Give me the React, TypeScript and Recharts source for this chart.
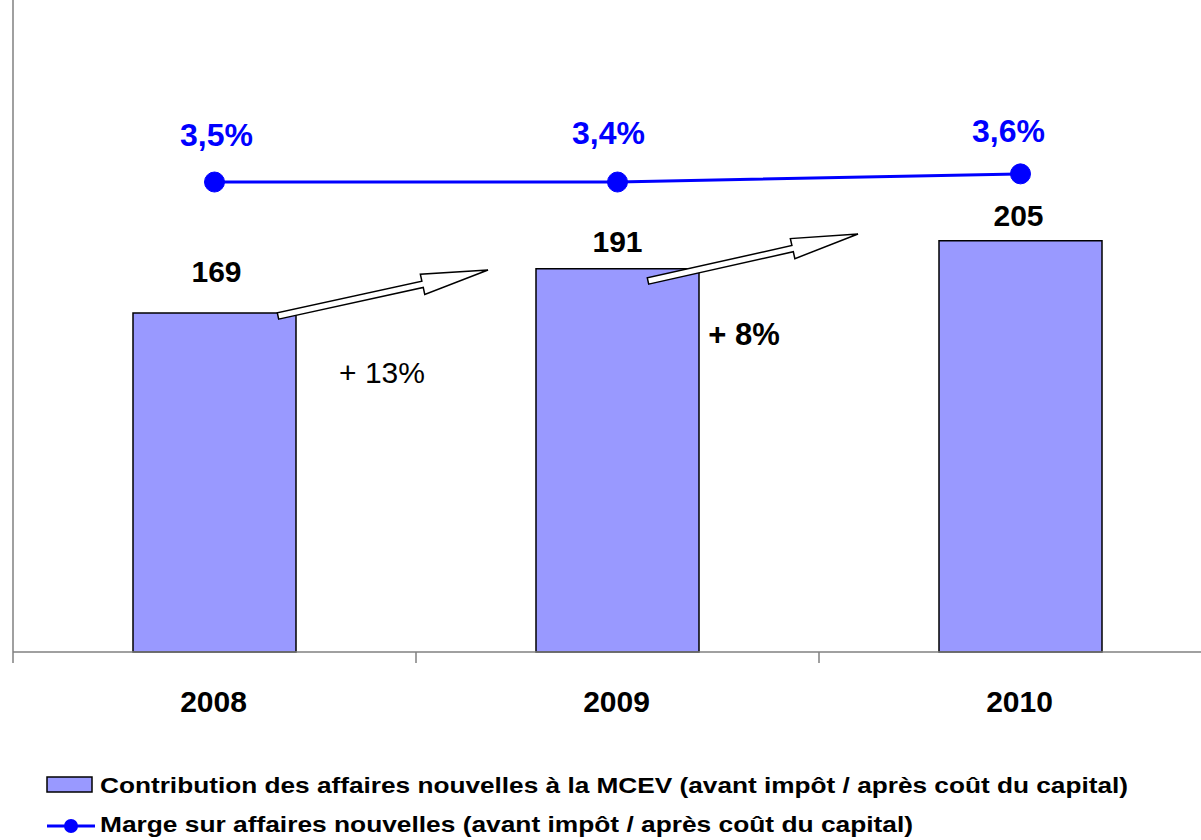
import React from 'react';
import {
  ComposedChart,
  Bar,
  Line,
  XAxis,
  YAxis,
  LabelList,
} from 'recharts';

// values
const years = ['2008', '2009', '2010'];
const contribution = [169, 191, 205];
const marginPct = [3.46, 3.46, 3.52];
const marginLabels = ['3,5%', '3,4%', '3,6%'];
const growthLabels = ['+ 13%', '+ 8%'];

const legendNames = [
  'Contribution des affaires nouvelles à la MCEV (avant impôt / après coût du capital)',
  'Marge sur affaires nouvelles (avant impôt / après coût du capital)',
];

const data = years.map((year, i) => ({
  year,
  contribution: contribution[i],
  margin: marginPct[i],
}));

const FONT = '"Liberation Sans", Arial, sans-serif';
const BAR_FILL = '#9999FF';
const LINE_COLOR = '#0000FF';
const AXIS_COLOR = '#808080';

const W = 1201;
const H = 840;
const CHART_W = 1222;
const PLOT_LEFT = 13;
const AXIS_H = 188;
const BAND = (CHART_W - PLOT_LEFT) / years.length;

// small per-label nudges to follow the original placement
const barLabelShift = [
  { dx: 2, dy: -31 },
  { dx: 0, dy: -17 },
  { dx: -2, dy: -15 },
];
const pctLabelShift = [
  { dx: 2, dy: -36 },
  { dx: -9, dy: -38 },
  { dx: -12, dy: -32 },
];

// hand drawn arrows + growth texts of the slide
const arrows = [
  { x1: 278, y1: 316, x2: 488, y2: 270 },
  { x1: 648, y1: 281, x2: 858, y2: 234 },
];
const growthPos = [
  { x: 382, y: 383, bold: false, size: 30 },
  { x: 744, y: 345, bold: true, size: 31 },
];
const legendTextWidth = [1028, 813];

function arrowPoints(x1: number, y1: number, x2: number, y2: number) {
  const shaft = 3.2;
  const headLen = 67;
  const headHalf = 10.3;
  const len = Math.hypot(x2 - x1, y2 - y1);
  const ux = (x2 - x1) / len;
  const uy = (y2 - y1) / len;
  const nx = -uy;
  const ny = ux;
  const bx = x2 - ux * headLen;
  const by = y2 - uy * headLen;
  const pts = [
    [x1 + nx * shaft, y1 + ny * shaft],
    [bx + nx * shaft, by + ny * shaft],
    [bx + nx * headHalf, by + ny * headHalf],
    [x2, y2],
    [bx - nx * headHalf, by - ny * headHalf],
    [bx - nx * shaft, by - ny * shaft],
    [x1 - nx * shaft, y1 - ny * shaft],
  ];
  return pts.map((p) => p.join(',')).join(' ');
}

const YearTick = (props: any) => {
  const { x, y, payload } = props;
  return (
    <g>
      <line x1={x - BAND / 2} y1={y} x2={x - BAND / 2} y2={y + 11} stroke={AXIS_COLOR} strokeWidth={1.5} />
      <text
        x={x - 1}
        y={y + 60}
        textAnchor="middle"
        fontFamily={FONT}
        fontWeight="bold"
        fontSize={30}
        fill="#000"
      >
        {payload.value}
      </text>
    </g>
  );
};

const BarValueLabel = (props: any) => {
  const { x, y, width, value, index } = props;
  const s = barLabelShift[index] || { dx: 0, dy: -20 };
  return (
    <text
      x={x + width / 2 + s.dx}
      y={y + s.dy}
      textAnchor="middle"
      fontFamily={FONT}
      fontWeight="bold"
      fontSize={30}
      fill="#000"
    >
      {value}
    </text>
  );
};

const PctLabel = (props: any) => {
  const { x, y, index } = props;
  const s = pctLabelShift[index] || { dx: 0, dy: -35 };
  return (
    <text
      x={x + s.dx}
      y={y + s.dy}
      textAnchor="middle"
      fontFamily={FONT}
      fontWeight="bold"
      fontSize={32}
      fill={LINE_COLOR}
    >
      {marginLabels[index]}
    </text>
  );
};

const Annotations = () => (
  <svg width={W} height={H} style={{ position: 'absolute', left: 0, top: 0, pointerEvents: 'none' }}>
    {arrows.map((a, i) => (
      <polygon
        key={`arrow-${i}`}
        points={arrowPoints(a.x1, a.y1, a.x2, a.y2)}
        fill="#fff"
        stroke="#000"
        strokeWidth={1.5}
        strokeLinejoin="miter"
      />
    ))}
    {growthLabels.map((g, i) => (
      <text
        key={`growth-${i}`}
        x={growthPos[i].x}
        y={growthPos[i].y}
        textAnchor="middle"
        fontFamily={FONT}
        fontWeight={growthPos[i].bold ? 'bold' : 'normal'}
        fontSize={growthPos[i].size}
        fill="#000"
      >
        {g}
      </text>
    ))}

    {/* legend */}
    <rect x={47} y={777} width={45} height={15} fill={BAR_FILL} stroke="#000" strokeWidth={1.5} />
    <text
      x={100}
      y={793}
      fontFamily={FONT}
      fontWeight="bold"
      fontSize={22}
      fill="#000"
      textLength={legendTextWidth[0]}
      lengthAdjust="spacingAndGlyphs"
    >
      {legendNames[0]}
    </text>
    <line x1={47} y1={826} x2={95} y2={826} stroke={LINE_COLOR} strokeWidth={3} />
    <circle cx={71} cy={826} r={7} fill={LINE_COLOR} />
    <text
      x={100}
      y={832}
      fontFamily={FONT}
      fontWeight="bold"
      fontSize={22}
      fill="#000"
      textLength={legendTextWidth[1]}
      lengthAdjust="spacingAndGlyphs"
    >
      {legendNames[1]}
    </text>
  </svg>
);

const App = () => {
  return (
    <div style={{ position: 'absolute', left: 0, top: 0, width: W, height: H, overflow: 'hidden', background: '#fff' }}>
      <ComposedChart
        width={CHART_W}
        height={H}
        data={data}
        margin={{ top: 0, right: 0, left: PLOT_LEFT - 1, bottom: 0 }}
      >
        <XAxis
          dataKey="year"
          height={AXIS_H}
          axisLine={{ stroke: AXIS_COLOR, strokeWidth: 1.5 }}
          tickLine={false}
          tickSize={0}
          tickMargin={0}
          tick={<YearTick />}
          interval={0}
        />
        <YAxis
          yAxisId="val"
          width={1}
          domain={[0, 325]}
          tick={false}
          tickLine={false}
          axisLine={{ stroke: AXIS_COLOR, strokeWidth: 1.5 }}
        />
        <YAxis yAxisId="pct" orientation="right" hide domain={[0, 4.8]} />
        <Bar
          yAxisId="val"
          dataKey="contribution"
          barSize={163}
          fill={BAR_FILL}
          stroke="#000"
          strokeWidth={1.5}
          isAnimationActive={false}
        >
          <LabelList dataKey="contribution" content={<BarValueLabel />} />
        </Bar>
        <Line
          yAxisId="pct"
          dataKey="margin"
          type="linear"
          stroke={LINE_COLOR}
          strokeWidth={3}
          dot={{ r: 10, fill: LINE_COLOR, stroke: LINE_COLOR, strokeWidth: 1 }}
          activeDot={false}
          isAnimationActive={false}
        >
          <LabelList dataKey="margin" content={<PctLabel />} />
        </Line>
      </ComposedChart>
      <Annotations />
    </div>
  );
};

export default App;
